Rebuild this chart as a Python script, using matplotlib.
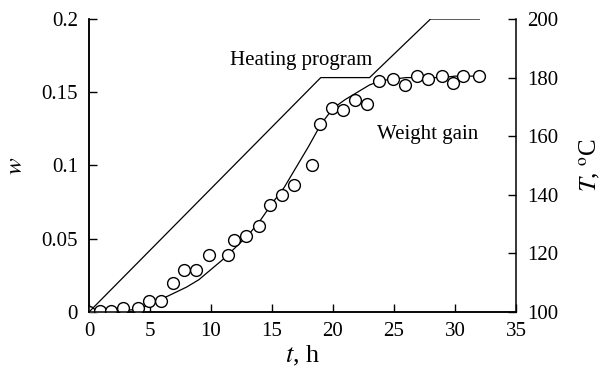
import matplotlib
matplotlib.use("Agg")
import matplotlib.pyplot as plt

plt.rcParams["font.family"] = ["Liberation Serif", "DejaVu Serif"]
plt.rcParams["mathtext.fontset"] = "stix"

# measured weight gain (open circles)
t_pts = [0, 0.9, 1.8, 2.8, 4.0, 4.9, 5.9, 6.9, 7.8, 8.8, 9.8, 11.4, 11.9, 12.9, 13.9,
         14.8, 15.8, 16.8, 18.3, 18.9, 19.9, 20.8, 21.8, 22.8, 23.8, 24.9, 25.9,
         26.9, 27.8, 28.9, 29.8, 30.7, 32.0]
w_pts = [0, 0.001, 0.001, 0.003, 0.003, 0.0077, 0.0077, 0.020, 0.0287, 0.0287, 0.039,
         0.039, 0.049, 0.052, 0.059, 0.073, 0.080, 0.087, 0.100, 0.128, 0.139, 0.138,
         0.145, 0.142, 0.158, 0.159, 0.155, 0.161, 0.159, 0.161, 0.156, 0.161, 0.161]

# model curve
t_fit = [0, 1, 2, 3, 4, 5, 6, 7, 8, 9, 10, 11, 12, 13, 14, 15, 16, 17, 18, 19, 20,
         21, 22, 23, 24, 25, 26, 27, 28, 29, 30, 31, 32]
w_fit = [0, 0, 0.0005, 0.001, 0.002, 0.005, 0.009, 0.013, 0.017, 0.022, 0.029, 0.036,
         0.044, 0.052, 0.062, 0.074, 0.085, 0.099, 0.113, 0.128, 0.139, 0.145, 0.150,
         0.155, 0.158, 0.159, 0.160, 0.160, 0.160, 0.160, 0.161, 0.161, 0.161]

# heating program
t_heat = [0, 19, 23, 28, 32]
T_heat = [100, 180, 180, 200, 200]

fig = plt.figure(figsize=(6.07, 3.83), dpi=100)
ax = fig.add_axes([0.1466, 0.1854, 0.7034, 0.765])
ax2 = ax.twinx()

ax.plot(t_fit, w_fit, color="black", lw=0.9, zorder=2)
ax.plot(t_pts, w_pts, "o", mfc="white", mec="black", ms=8.5, mew=1.0, zorder=3)
ax2.plot(t_heat, T_heat, color="black", lw=0.9)

ax.set_xlim(0, 35)
ax.set_ylim(0, 0.2)
ax2.set_ylim(100, 200)
ax.set_xticks(range(0, 36, 5))
ax.set_yticks([0, 0.05, 0.1, 0.15, 0.2])
ax.set_yticklabels(["0", "0.05", "0.1", "0.15", "0.2"])
ax2.set_yticks(range(100, 201, 20))

for a in (ax, ax2):
    a.spines["top"].set_visible(False)
    for s in a.spines.values():
        s.set_linewidth(1.1)
ax.spines["right"].set_visible(False)
ax.tick_params(axis="both", direction="in", length=6, width=1.0, labelsize=15, pad=8)
ax.tick_params(axis="x", pad=7)
ax2.tick_params(axis="y", direction="in", length=6, width=1.0, labelsize=15, pad=8)

ax.set_xlabel(r"$t$, h", fontsize=19, labelpad=2)
ax.set_ylabel(r"$w$", fontsize=18, labelpad=10)
ax2.set_ylabel(r"$T$, $^\mathrm{o}$C", fontsize=18, labelpad=14)

fig.text(230 / 607, 1 - 61 / 383, "Heating program", fontsize=15, ha="left", va="center")
fig.text(377 / 607, 1 - 135 / 383, "Weight gain", fontsize=15, ha="left", va="center")

fig.savefig("out.png", dpi=100)
